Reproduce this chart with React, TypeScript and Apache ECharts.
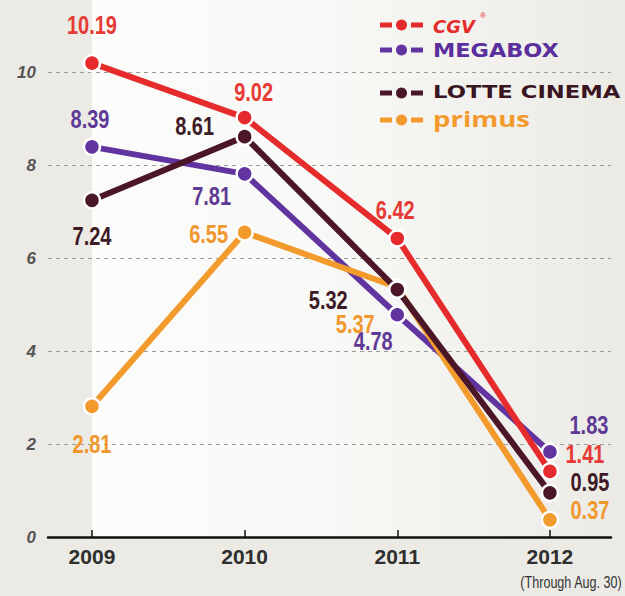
import React, { useEffect, useRef } from "react";
import * as echarts from "echarts";

const years = ["2009", "2010", "2011", "2012"];
const seriesNames = ["CGV", "MEGABOX", "LOTTE CINEMA", "primus"];
const cgv = [10.19, 9.02, 6.42, 1.41];
const megabox = [8.39, 7.81, 4.78, 1.83];
const lotte = [7.24, 8.61, 5.32, 0.95];
const primus = [2.81, 6.55, 5.37, 0.37];
const yTicks = [0, 2, 4, 6, 8, 10];
const footnote = "(Through Aug. 30)";

// label offsets (dx, dy) from each point
const cgvOff = [[0, -37], [9, -25], [-2, -28], [35, -17]];
const megaOff = [[-2, -27], [-33, 23], [-24, 27], [39, -26]];
const lotteOff = [[0, 36], [-50, -10], [-69, 11], [40, -10]];
const primusOff = [[0, 38], [-36, 2], [-42, 37], [40, -9]];

const SANS = "'Liberation Sans', Arial, sans-serif";

const COLORS = {
  cgv: "#e52b2b",
  mega: "#6234a0",
  lotte: "#4a1628",
  primus: "#f39a2c",
};
const LABEL_COLORS = {
  cgv: "#e63a34",
  mega: "#5e3a96",
  lotte: "#3e1b26",
  primus: "#f0982e",
};

function mkLine(name: string, vals: number[], color: string, z: number) {
  return {
    type: "line",
    name,
    z,
    clip: false,
    data: vals.map((v, i) => [i, v]),
    symbol: "circle",
    symbolSize: 16,
    lineStyle: { color, width: 6 },
    itemStyle: { color, borderColor: "#ffffff", borderWidth: 2.5 },
    label: { show: false },
    emphasis: { disabled: true },
  };
}

function mkLabels(name: string, vals: number[], offs: number[][], color: string) {
  return {
    type: "custom",
    name,
    z: 10,
    clip: false,
    silent: true,
    data: vals.map((v, i) => [i, v]),
    renderItem: (params: any, api: any) => {
      const pt = api.coord([api.value(0), api.value(1)]);
      const off = offs[params.dataIndex];
      return {
        type: "text",
        x: pt[0] + off[0],
        y: pt[1] + off[1],
        scaleX: 0.8,
        style: {
          text: (api.value(1) as number).toFixed(2),
          fill: color,
          fontFamily: SANS,
          fontWeight: "bold",
          fontSize: 25,
          align: "center",
          verticalAlign: "middle",
        },
      };
    },
  };
}

function legendIcon(cy: number, color: string) {
  return [
    { type: "rect", shape: { x: 380, y: cy - 2.5, width: 12, height: 5 }, style: { fill: color } },
    { type: "circle", shape: { cx: 401.5, cy, r: 5.5 }, style: { fill: color } },
    { type: "rect", shape: { x: 411, y: cy - 2.5, width: 12, height: 5 }, style: { fill: color } },
  ];
}

function legendText(cy: number, text: string, fill: string, font: any, scaleX: number) {
  return {
    type: "text",
    x: 433,
    y: cy,
    scaleX,
    style: { text, fill, align: "left", verticalAlign: "middle", ...font },
  };
}

export default function App() {
  const ref = useRef<HTMLDivElement>(null);
  useEffect(() => {
    if (!ref.current) return;
    const chart = echarts.init(ref.current, null, { renderer: "svg" });
    chart.setOption({
      animation: false,
      backgroundColor: "#ebeae5",
      graphic: [
        {
          type: "rect",
          z: -10,
          silent: true,
          shape: { x: 92, y: 0, width: 533, height: 537 },
          style: {
            fill: {
              type: "linear",
              x: 0, y: 0, x2: 1, y2: 0,
              colorStops: [
                { offset: 0, color: "#fcfcfb" },
                { offset: 0.45, color: "#f8f8f6" },
                { offset: 1, color: "#ebeae5" },
              ],
            },
          },
        },
        {
          type: "text",
          x: 571,
          y: 582,
          scaleX: 0.74,
          style: {
            text: footnote,
            fontFamily: SANS,
            fontSize: 17,
            fill: "#333",
            align: "center",
            verticalAlign: "middle",
          },
        },
        {
          type: "group",
          z: 100,
          children: [
            ...legendIcon(25, COLORS.cgv),
            legendText(26, seriesNames[0], COLORS.cgv,
              { fontFamily: "'DejaVu Sans', sans-serif", fontWeight: "bold", fontStyle: "italic", fontSize: 18 }, 1.0),
            {
              type: "text", x: 480, y: 15,
              style: { text: "®", fill: COLORS.cgv, fontSize: 8, fontFamily: SANS, align: "left", verticalAlign: "middle" },
            },
            ...legendIcon(50, COLORS.mega),
            legendText(50, seriesNames[1], "#5a2e9c",
              { fontFamily: "'DejaVu Sans', sans-serif", fontWeight: "bold", fontSize: 20 }, 1.12),
            ...legendIcon(93, COLORS.lotte),
            legendText(92, seriesNames[2], "#3a1420",
              { fontFamily: "'DejaVu Sans', sans-serif", fontWeight: "bold", fontSize: 18 }, 1.26),
            ...legendIcon(120, COLORS.primus),
            legendText(118, seriesNames[3], COLORS.primus,
              { fontFamily: "'Open Sans', sans-serif", fontWeight: "bold", fontSize: 22 }, 1.25),
          ],
        },
      ],
      grid: { left: 48, right: 14, top: 72, bottom: 59, containLabel: false },
      xAxis: {
        type: "value",
        min: -0.288,
        max: 3.4,
        axisLine: { show: true, lineStyle: { color: "#111", width: 2.5 } },
        axisTick: {
          show: true,
          inside: true,
          length: 7,
          customValues: [0, 1, 2, 3],
          lineStyle: { color: "#111", width: 1.5 },
        },
        axisLabel: {
          customValues: [0, 1, 2, 3],
          formatter: (v: number) => years[Math.round(v)] ?? "",
          fontFamily: SANS,
          fontWeight: "bold",
          fontSize: 21,
          color: "#2e2e2e",
          margin: 9,
        },
        splitLine: { show: false },
      },
      yAxis: {
        type: "value",
        min: 0,
        max: 10,
        interval: 2,
        axisLine: { show: false },
        axisTick: { show: false },
        axisLabel: {
          fontFamily: SANS,
          fontStyle: "italic",
          fontWeight: "bold",
          fontSize: 17,
          color: "#555",
          margin: 12,
          formatter: (v: number) => (yTicks.includes(v) ? String(v) : ""),
        },
        splitLine: {
          show: true,
          showMinLine: false,
          lineStyle: { color: "#9a9a96", type: [4, 4], width: 1 },
        },
      },
      series: [
        mkLine(seriesNames[1], megabox, COLORS.mega, 2),
        mkLine(seriesNames[3], primus, COLORS.primus, 3),
        mkLine(seriesNames[2], lotte, COLORS.lotte, 4),
        mkLine(seriesNames[0], cgv, COLORS.cgv, 5),
        mkLabels(seriesNames[0], cgv, cgvOff, LABEL_COLORS.cgv),
        mkLabels(seriesNames[1], megabox, megaOff, LABEL_COLORS.mega),
        mkLabels(seriesNames[2], lotte, lotteOff, LABEL_COLORS.lotte),
        mkLabels(seriesNames[3], primus, primusOff, LABEL_COLORS.primus),
      ],
    });
    return () => chart.dispose();
  }, []);
  return <div ref={ref} style={{ width: 625, height: 596, position: "absolute", left: 0, top: 0 }} />;
}
